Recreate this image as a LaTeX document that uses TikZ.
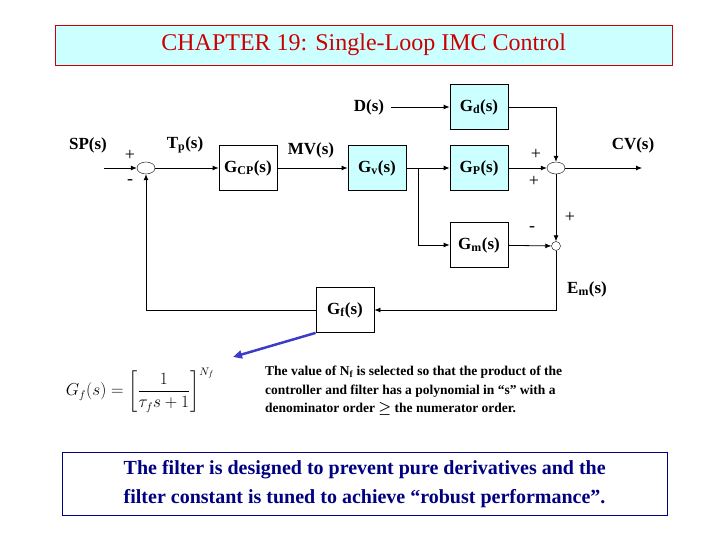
\documentclass[tikz,border=0pt]{standalone}
\usepackage{amsmath}
\usepackage{fontspec}
\setmainfont{Liberation Serif}
\usetikzlibrary{arrows.meta,shapes.geometric}
\definecolor{boxcyan}{RGB}{204,255,255}
\definecolor{titlered}{RGB}{204,0,0}
\definecolor{navy}{RGB}{0,0,128}
\definecolor{arrowblue}{RGB}{60,60,200}
\begin{document}
\begin{tikzpicture}[x=1pt,y=-1pt,
  blk/.style={draw,thick,minimum width=58pt,minimum height=45pt,inner sep=0pt,font=\fontsize{17}{19}\selectfont\bfseries},
  cblk/.style={blk,fill=boxcyan},
  lbl/.style={font=\fontsize{17}{19}\selectfont\bfseries,inner sep=0pt},
  sgn/.style={font=\fontsize{18}{18}\selectfont,inner sep=0pt},
  sum/.style={draw,ellipse,minimum width=18pt,minimum height=12pt,inner sep=0pt},
  wire/.style={thick,-{Latex[length=6pt,width=5pt]}},
  every node/.append style={text=black}]
\useasboundingbox (0,0) rectangle (720,540);
\node[draw=titlered,fill=boxcyan,minimum width=617pt,minimum height=40pt,anchor=north west,inner sep=0pt,font=\fontsize{24}{26}\selectfont,text=titlered] (title) at (55,25) {CHAPTER 19: Single-Loop IMC Control};
% blocks
\node[blk] (gcp) at (248,168) {G\textsubscript{CP}(s)};
\node[cblk] (gv) at (377,168) {G\textsubscript{v}(s)};
\node[cblk] (gp) at (479,168) {G\textsubscript{P}(s)};
\node[cblk] (gd) at (479,107) {G\textsubscript{d}(s)};
\node[blk] (gm) at (479,245) {G\textsubscript{m}(s)};
\node[blk] (gf) at (345,310) {G\textsubscript{f}(s)};
\node[sum] (s1) at (146,168) {};
\node[sum] (s2) at (556,168) {};
\node[draw,circle,minimum size=9pt,inner sep=0pt] (s3) at (556,246) {};
\coordinate (in) at (104,168);
\coordinate (out) at (642,168);
\coordinate (br) at (418,168);
% labels
\node[lbl] (sp) at (88,145) {SP(s)};
\node[lbl] (tp) at (185,145) {T\textsubscript{p}(s)};
\node[lbl] (mv) at (311,150) {MV(s)};
\node[lbl] (d) at (369,107) {D(s)};
\node[lbl] (cv) at (633,145) {CV(s)};
\node[lbl] (em) at (587,289) {E\textsubscript{m}(s)};
\node[sgn] (p1) at (130,155) {+};
\node[sgn] (m1) at (130,182) {-};
\node[sgn] (p2) at (536,154) {+};
\node[sgn] (p3) at (534,181) {+};
\node[sgn] (m3) at (532,229) {-};
\node[sgn] (p4) at (570,217) {+};
% wires
\draw[wire] (in) -- (s1);
\draw[wire] (s1) -- (gcp);
\draw[wire] (gcp) -- (gv);
\draw[wire] (gv) -- (gp);
\draw[wire] (gp) -- (s2);
\draw[wire] (s2) -- (out);
\draw[wire] (d) ++(22,0) -- (gd);
\draw[wire] (gd.east) -| (s2.north);
\draw[wire] (br) |- (gm);
\draw[wire] (gm) -- (s3);
\draw[wire] (s2.south) -- (s3.north);
\draw[wire] (s3.south) |- (gf.east);
\draw[wire] (gf.west) -| (s1.south);
% blue pointer
\coordinate (tip) at (233,357);
\draw[arrowblue,line width=2.5pt,-{Triangle[length=9pt,width=8pt]}] (gf.south west) -- (tip);
% formula
\node[inner sep=0pt,font=\fontsize{16}{18}\selectfont] (form) at (140,390)
  {$G_f(s)=\left[\dfrac{1}{\tau_f s+1}\right]^{N_f}$};
\node[anchor=north west,align=left,inner sep=0pt,font=\fontsize{13.5}{18.5}\selectfont\bfseries] (note) at (265,366)
  {The value of N\textsubscript{f} is selected so that the product of the\\controller and filter has a polynomial in “s” with a\\denominator order $\boldsymbol{\geq}$ the numerator order.};
\node[draw=navy,anchor=north west,minimum width=605pt,minimum height=63pt,inner sep=4pt,align=left,font=\fontsize{20}{29}\selectfont\bfseries,text=navy] (bottom) at (62,452)
  {The filter is designed to prevent pure derivatives and the\\filter constant is tuned to achieve “robust performance”.};
\end{tikzpicture}
\end{document}
